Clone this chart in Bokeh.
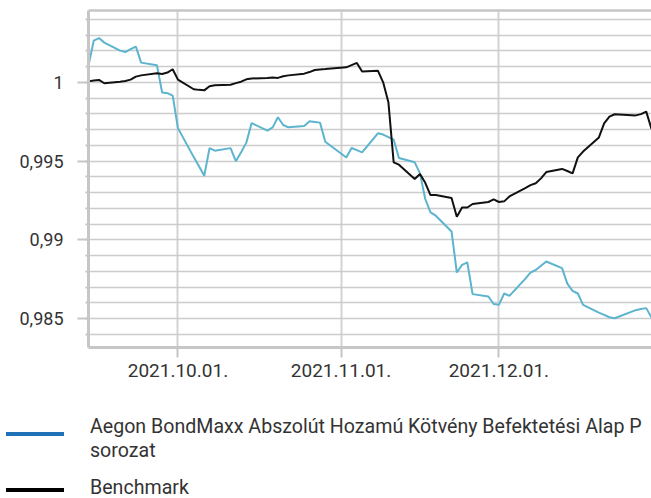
import pandas as pd
from bokeh.plotting import figure
from bokeh.models import (FixedTicker, CustomJSTickFormatter, LinearAxis, Range1d,
                          ColumnDataSource, Div)
from bokeh.layouts import column
from bokeh.embed import file_html
from bokeh.resources import INLINE

dates = [
    "2021-09-14", "2021-09-15", "2021-09-16", "2021-09-17", "2021-09-20", "2021-09-21",
    "2021-09-22", "2021-09-23", "2021-09-24", "2021-09-27", "2021-09-28", "2021-09-29",
    "2021-09-30",
    "2021-10-01", "2021-10-04", "2021-10-05", "2021-10-06", "2021-10-07", "2021-10-08",
    "2021-10-11", "2021-10-12", "2021-10-13", "2021-10-14", "2021-10-15", "2021-10-18",
    "2021-10-19", "2021-10-20", "2021-10-21", "2021-10-22", "2021-10-25", "2021-10-26",
    "2021-10-27", "2021-10-28", "2021-10-29",
    "2021-11-02", "2021-11-03", "2021-11-04", "2021-11-05", "2021-11-08", "2021-11-09",
    "2021-11-10", "2021-11-11", "2021-11-12", "2021-11-15", "2021-11-16", "2021-11-17",
    "2021-11-18", "2021-11-19", "2021-11-22", "2021-11-23", "2021-11-24", "2021-11-25",
    "2021-11-26", "2021-11-29", "2021-11-30",
    "2021-12-01", "2021-12-02", "2021-12-03", "2021-12-06", "2021-12-07", "2021-12-08",
    "2021-12-09", "2021-12-10", "2021-12-13", "2021-12-14", "2021-12-15", "2021-12-16",
    "2021-12-17", "2021-12-20", "2021-12-21", "2021-12-22", "2021-12-23", "2021-12-27",
    "2021-12-28", "2021-12-29", "2021-12-30",
]

fund = [
    1.00106, 1.00265, 1.00281, 1.00252, 1.00201, 1.00192, 1.00211, 1.00227, 1.00125,
    1.00109, 0.99935, 0.99931, 0.99915,
    0.99709, 0.99525, 0.99467, 0.99407, 0.99582, 0.99566, 0.99582, 0.99499, 0.99556,
    0.99617, 0.99741, 0.99693, 0.99714, 0.99778, 0.99729, 0.99714, 0.99723, 0.99752,
    0.99748, 0.99744, 0.99623,
    0.99523, 0.99583, 0.99569, 0.99555, 0.99676, 0.99668, 0.99652, 0.99636, 0.99519,
    0.99492, 0.99422, 0.99259, 0.99174, 0.99153, 0.99053, 0.98792, 0.98841, 0.98856,
    0.98655, 0.98640, 0.98592,
    0.98587, 0.98659, 0.98644, 0.98752, 0.98792, 0.98808, 0.98835, 0.98862, 0.98820,
    0.98722, 0.98676, 0.98659, 0.98587, 0.98538, 0.98523, 0.98508, 0.98502, 0.98553,
    0.98560, 0.98566, 0.98506,
]

benchmark = [
    1.00006, 1.00011, 1.00015, 0.99994, 1.00003, 1.00008, 1.00017, 1.00036, 1.00044,
    1.00057, 1.00053, 1.00062, 1.00083,
    1.00017, 0.99956, 0.99952, 0.99949, 0.99975, 0.99981, 0.99985, 0.99995, 1.00004,
    1.00019, 1.00024, 1.00028, 1.00030, 1.00028, 1.00038, 1.00044, 1.00055, 1.00065,
    1.00078, 1.00082, 1.00084,
    1.00095, 1.00109, 1.00123, 1.00068, 1.00074, 1.00000, 0.99873, 0.99492, 0.99477,
    0.99386, 0.99418, 0.99362, 0.99284, 0.99284, 0.99265, 0.99146, 0.99205, 0.99205,
    0.99227, 0.99240, 0.99256,
    0.99240, 0.99244, 0.99275, 0.99328, 0.99347, 0.99359, 0.99390, 0.99430, 0.99450,
    0.99437, 0.99422, 0.99523, 0.99560, 0.99650, 0.99739, 0.99782, 0.99797, 0.99790,
    0.99798, 0.99814, 0.99704,
]

series_names = ["Aegon BondMaxx Abszolút Hozamú Kötvény Befektetési Alap P\nsorozat", "Benchmark"]
legend_colors = ["#1f72b8", "#000000"]

x_tick_dates = ["2021-10-01", "2021-11-01", "2021-12-01"]
x_tick_labels = ["2021.10.01.", "2021.11.01.", "2021.12.01."]
y_ticks = [0.985, 0.99, 0.995, 1.0]
y_tick_labels = ["0,985", "0,99", "0,995", "1"]
y_minor = [0.984, 0.985, 0.986, 0.987, 0.988, 0.989, 0.990, 0.991, 0.992, 0.993, 0.994,
           0.995, 0.996, 0.997, 0.998, 0.999, 1.000, 1.001, 1.002, 1.003, 1.004]
y_min, y_max = 0.98316, 1.00456

FONT = "Roboto"
GRID = "#cccccc"
AXIS = "#c6c6c6"
TEXT = "#333333"

x = pd.to_datetime(dates)
src = ColumnDataSource(dict(x=x, fund=fund, bench=benchmark))

p = figure(frame_width=563, frame_height=337, x_axis_type="datetime",
           x_range=Range1d(x[0], x[-1]), y_range=Range1d(y_min, y_max),
           output_backend="svg", toolbar_location=None,
           min_border_left=88, min_border_right=0, min_border_top=10, min_border_bottom=45)
p.outline_line_color = None
p.background_fill_color = "white"
p.border_fill_color = "white"

x_tick_ms = [pd.Timestamp(d).value / 1e6 for d in x_tick_dates]
fmt_code = """
for (let i = 0; i < tvals.length; i++) {
    if (Math.abs(tvals[i] - tick) < 1e-6 * Math.max(1, Math.abs(tick))) return tlabels[i];
}
return '';
"""

xa = p.xaxis[0]
xa.ticker = FixedTicker(ticks=x_tick_ms)
xa.formatter = CustomJSTickFormatter(args=dict(tvals=x_tick_ms, tlabels=x_tick_labels), code=fmt_code)
xa.axis_line_color = AXIS
xa.axis_line_width = 3
xa.major_tick_line_color = AXIS
xa.major_tick_line_width = 2
xa.major_tick_out = 10
xa.major_tick_in = 0
xa.minor_tick_line_color = None
xa.major_label_standoff = 6
xa.major_label_text_font = FONT
xa.major_label_text_font_size = "19px"
xa.major_label_text_color = TEXT

ya = p.yaxis[0]
ya.ticker = FixedTicker(ticks=y_ticks, minor_ticks=y_minor)
ya.formatter = CustomJSTickFormatter(args=dict(tvals=y_ticks, tlabels=y_tick_labels), code=fmt_code)
ya.axis_line_color = AXIS
ya.axis_line_width = 3
ya.major_tick_line_color = AXIS
ya.major_tick_line_width = 2
ya.major_tick_out = 11
ya.major_tick_in = 0
ya.minor_tick_line_color = AXIS
ya.minor_tick_line_width = 2
ya.minor_tick_out = 3
ya.minor_tick_in = 0
ya.major_label_standoff = 14
ya.major_label_text_font = FONT
ya.major_label_text_font_size = "18px"
ya.major_label_text_color = TEXT

top = LinearAxis(ticker=FixedTicker(ticks=[]), axis_line_color=AXIS, axis_line_width=2.5,
                 major_tick_line_color=None, minor_tick_line_color=None,
                 major_label_standoff=0, major_tick_out=0, major_tick_in=0)
p.add_layout(top, "above")

p.xgrid.ticker = FixedTicker(ticks=x_tick_ms)
p.xgrid.grid_line_color = "#d2d2d2"
p.xgrid.grid_line_width = 2
p.ygrid.ticker = FixedTicker(ticks=y_minor)
p.ygrid.grid_line_color = GRID
p.ygrid.grid_line_width = 1.5

p.line("x", "fund", source=src, line_color="#5cb4cf", line_width=2)
p.line("x", "bench", source=src, line_color="#111111", line_width=2)

# legend below the chart (its swatch colours differ from the plotted lines)
def legend_row(top_px, line_h, swatch_top, color, label):
    return (
        f'<div style="position:absolute;left:6px;top:{swatch_top}px;width:58px;height:4px;'
        f'background:{color};"></div>'
        f'<div style="position:absolute;left:90px;top:{top_px}px;white-space:nowrap;'
        f'line-height:{line_h}px;">{label.replace(chr(10), "<br>")}</div>'
    )

html = (
    f'<div style="position:relative;width:651px;height:106px;font-family:{FONT};'
    f'font-size:19.6px;color:{TEXT};">'
    + legend_row(23, 24, 40, legend_colors[0], series_names[0])
    + legend_row(86, 20, 96, legend_colors[1], series_names[1])
    + '</div>'
)
leg = Div(text=html, width=651, height=106, margin=0)

layout = column(p, leg, spacing=0)
open("out.html", "w").write(file_html(layout, INLINE))
